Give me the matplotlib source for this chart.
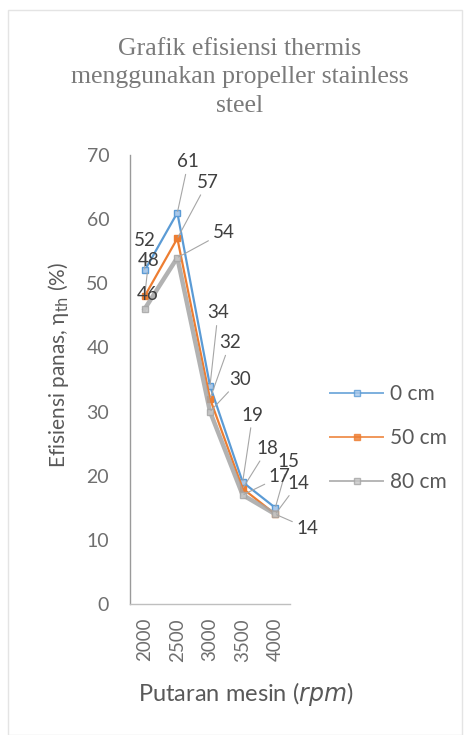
import matplotlib
matplotlib.use("Agg")
import matplotlib.pyplot as plt
from matplotlib.patches import Rectangle

# ---- data ----
categories = ["2000", "2500", "3000", "3500", "4000"]
series_names = ["0 cm", "50 cm", "80 cm"]
eff_0cm = [52, 61, 34, 19, 15]
eff_50cm = [48, 57, 32, 18, 14]
eff_80cm = [46, 54, 30, 17, 14]
yticks = [0, 10, 20, 30, 40, 50, 60, 70]

title = "Grafik efisiensi thermis\nmenggunakan propeller stainless\nsteel"
xlabel = "Putaran mesin ($\\it{rpm}$)"
ylabel = "Efisiensi panas, η$_{\\rm th}$ (%)"

# ---- styles ----
colors = ["#5B9BD5", "#ED7D31", "#A5A5A5"]
label_offsets = [
    [(0, 30), (11, 51), (8, 73), (10, 67), (13, 46)],
    [(4, 36), (30, 56), (20, 56), (25, 40), (23, 31)],
    [(3, 14), (46, 25), (30, 32), (37, 18), (32, -14)],
]

plt.rcParams['font.family'] = ['Lato', 'DejaVu Sans']

fig = plt.figure(figsize=(4.7, 7.35), dpi=100)
fig.patch.set_facecolor("white")
fig.patches.append(Rectangle((8 / 470, 0.0), 454 / 470, (735 - 10) / 735,
                             transform=fig.transFigure, fill=False,
                             edgecolor="#e4e4e4", lw=1.0))

ax = fig.add_axes([130 / 470, 131 / 735, 160 / 470, 449 / 735])
x = list(range(len(categories)))
all_series = [eff_0cm, eff_50cm, eff_80cm]

ax.plot(x, eff_0cm, color=colors[0], lw=1.6, marker="s", markersize=5,
        markerfacecolor="#a9c8ea", markeredgecolor=colors[0], label=series_names[0], zorder=3)
ax.plot(x, eff_50cm, color=colors[1], lw=1.6, marker="s", markersize=4.5,
        markerfacecolor=colors[1], markeredgecolor=colors[1], label=series_names[1], zorder=4)
ax.plot(x, eff_80cm, color=colors[2], lw=3.2, marker="s", markersize=4,
        markerfacecolor="#c8c8c8", markeredgecolor=colors[2], label=series_names[2], zorder=5,
        alpha=0.85)

for s, vals in enumerate(all_series):
    for i, v in enumerate(vals):
        dx, dy = label_offsets[s][i]
        far = (dx * dx + dy * dy) > 25 * 25
        ax.annotate(str(v), xy=(x[i], v), xytext=(dx, dy), textcoords="offset pixels",
                    ha="center", va="center", fontsize=13.5, color="#404040", zorder=6,
                    arrowprops=dict(arrowstyle="-", color="#a6a6a6", lw=0.8,
                                    shrinkA=1, shrinkB=1) if far else None)

ax.set_xlim(-0.45, 4.45)
ax.set_ylim(0, 70)
ax.set_yticks(yticks)
ax.set_xticks(x)
ax.set_xticklabels(categories, rotation=90, fontsize=13.5, color="#6f6f6f")
ax.tick_params(axis="y", labelsize=14, labelcolor="#6f6f6f", length=0, pad=15)
ax.tick_params(axis="x", length=0, pad=10)
for sp in ["top", "right"]:
    ax.spines[sp].set_visible(False)
ax.spines["left"].set_color("#9a9a9a")
ax.spines["bottom"].set_color("#bfbfbf")
ax.spines["left"].set_linewidth(1.0)
ax.spines["bottom"].set_linewidth(1.0)

ax.set_xlabel(xlabel, fontsize=17, color="#595959", ha="left", va="center")
ax.xaxis.set_label_coords(0.05, -0.2)
ax.set_ylabel(ylabel, fontsize=15, color="#595959", va="center")
ax.yaxis.set_label_coords(-0.444, 0.532)

fig.text(240 / 470, 1 - 38 / 735, title, ha="center", va="top", fontsize=18.5,
         family=["Liberation Serif", "DejaVu Serif"], color="#7a7a7a", linespacing=1.38)

leg = ax.legend(loc="upper left", bbox_to_anchor=(200 / 160, (604 - 384) / 449),
                frameon=False, borderaxespad=0, borderpad=0,
                fontsize=15, labelcolor="#595959", handlelength=2.55, labelspacing=1.15,
                handletextpad=0.33)
for ln in leg.get_lines():
    ln.set_linewidth(1.4)
    ln.set_alpha(0.8)

fig.savefig("out.png", dpi=100, facecolor="white")
